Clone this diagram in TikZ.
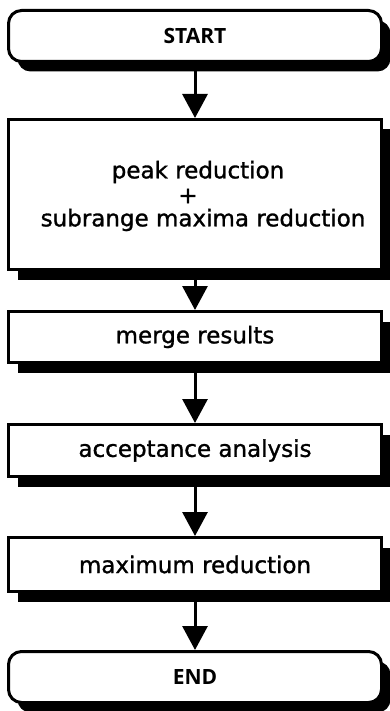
\documentclass[tikz,border=0pt]{standalone}
\usepackage{fontspec}
\setmainfont{DejaVu Sans}[FakeBold=1.2]
\newfontfamily\termfont{Open Sans}
\usetikzlibrary{arrows.meta,shadows}
\begin{document}
\begin{tikzpicture}[x=1pt,y=-1pt,
  boxbase/.style={draw=black, fill=white, line width=3pt, minimum width=373pt,
    inner sep=0pt, align=center,
    drop shadow={shadow xshift=9pt, shadow yshift=-10pt, opacity=1, fill=black}},
  procbox/.style={boxbase, font=\fontsize{23}{25}\selectfont},
  termbox/.style={boxbase, rounded corners=13pt, font=\termfont\bfseries\fontsize{21}{24}\selectfont},
  txt/.style={font=\fontsize{23}{25}\selectfont, inner sep=0pt},
  flow/.style={line width=3pt, -{Triangle[width=25pt,length=24pt]}}
]
\useasboundingbox (0,0) rectangle (390,711);
\node[termbox, minimum height=51pt] (start) at (195,36) {START};
\node[procbox, minimum height=150pt] (peak) at (195,194.5) {};
\node[txt] (l1) at (198,172) {peak reduction};
\node[txt] (l2) at (188,196) {+};
\node[txt] (l3) at (203,220) {subrange maxima reduction};
\node[procbox, minimum height=51pt] (merge) at (195,337) {merge results};
\node[procbox, minimum height=52pt] (accept) at (195,450.5) {acceptance analysis};
\node[procbox, minimum height=54pt] (maxred) at (195,564.5) {maximum reduction};
\node[termbox, minimum height=51pt] (end) at (195,677) {END};
\draw[flow] (start) -- (peak);
\draw[flow] (peak) -- (merge);
\draw[flow] (merge) -- (accept);
\draw[flow] (accept) -- (maxred);
\draw[flow] (maxred) -- (end);
\end{tikzpicture}
\end{document}
